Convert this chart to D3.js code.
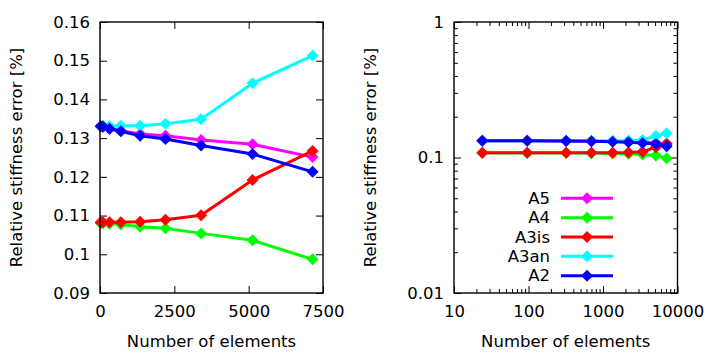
<!DOCTYPE html>
<html>
<head>
<meta charset="utf-8">
<script src="https://cdn.jsdelivr.net/npm/d3@7"></script>
<style>
  body { margin: 0; background: #fff; }
  svg text { font-family: "DejaVu Sans", sans-serif; font-size: 16.5px; fill: #000; }
  .axis path { display: none; }
  .axis line { stroke: #000; stroke-width: 1; }
</style>
</head>
<body>
<div id="chart"></div>
<script>
// data
var elements = [24, 96, 320, 700, 1350, 2200, 3400, 5130, 7150];
var seriesNames = ["A5", "A4", "A3is", "A3an", "A2"];
var seriesColors = ["#ff00ff", "#00ff00", "#ff0000", "#00ffff", "#0000ff"];
var a5 = [0.1331, 0.1329, 0.1324, 0.1319, 0.1311, 0.1306, 0.1295, 0.1284, 0.1251];
var a4 = [0.1080, 0.1080, 0.1079, 0.1077, 0.1071, 0.1067, 0.1054, 0.1036, 0.0987];
var a3is = [0.1083, 0.1083, 0.1083, 0.1083, 0.1084, 0.1089, 0.1101, 0.1192, 0.1267];
var a3an = [0.1331, 0.1332, 0.1331, 0.1332, 0.1332, 0.1337, 0.1349, 0.1442, 0.1513];
var a2 = [0.1331, 0.1330, 0.1324, 0.1318, 0.1306, 0.1298, 0.1281, 0.1259, 0.1213];
var linTicksX = [0, 2500, 5000, 7500];
var linTicksY = [0.09, 0.10, 0.11, 0.12, 0.13, 0.14, 0.15, 0.16];
var logTicksX = [10, 100, 1000, 10000];
var logTicksY = [0.01, 0.1, 1];

var allValues = [a5, a4, a3is, a3an, a2];
var series = seriesNames.map((name, i) => ({
    name: name,
    color: seriesColors[i],
    points: elements.map((e, j) => ({ x: e, y: allValues[i][j] }))
}));

var svgWidth = 709, svgHeight = 355;
var plotTop = 22, plotBottom = 293;
var majorLen = 7, minorLen = 4;

var svg = d3.select("#chart")
    .append("svg")
    .attr("width", svgWidth)
    .attr("height", svgHeight);

var diamond = "M0,-6L6,0L0,6L-6,0Z";

function drawPanel(xScale, yScale, xTicks, yTicks, xFmt, yFmt, isLog, x0, x1) {
    var g = svg.append("g");

    // bottom axis with labels, ticks pointing inward
    g.append("g").attr("class", "axis")
        .attr("transform", `translate(0,${plotBottom})`)
        .call(d3.axisBottom(xScale).tickValues(xTicks).tickFormat(xFmt)
            .tickSize(-majorLen).tickPadding(12));
    // top mirror
    g.append("g").attr("class", "axis")
        .attr("transform", `translate(0,${plotTop})`)
        .call(d3.axisTop(xScale).tickValues(xTicks).tickFormat("").tickSize(-majorLen));

    g.append("g").attr("class", "axis")
        .attr("transform", `translate(${x0},0)`)
        .call(d3.axisLeft(yScale).tickValues(yTicks).tickFormat(yFmt)
            .tickSize(-majorLen).tickPadding(10));
    g.append("g").attr("class", "axis")
        .attr("transform", `translate(${x1},0)`)
        .call(d3.axisRight(yScale).tickValues(yTicks).tickFormat("").tickSize(-majorLen));

    if (isLog) {
        var minorX = [], minorY = [];
        for (var d = 10; d < 10000; d *= 10)
            for (var k = 2; k <= 9; k++) minorX.push(d * k);
        for (var d = 0.01; d < 1; d *= 10)
            for (var k = 2; k <= 9; k++) minorY.push(d * k);
        g.append("g").attr("class", "axis").attr("transform", `translate(0,${plotBottom})`)
            .call(d3.axisBottom(xScale).tickValues(minorX).tickFormat("").tickSize(-minorLen));
        g.append("g").attr("class", "axis").attr("transform", `translate(0,${plotTop})`)
            .call(d3.axisTop(xScale).tickValues(minorX).tickFormat("").tickSize(-minorLen));
        g.append("g").attr("class", "axis").attr("transform", `translate(${x0},0)`)
            .call(d3.axisLeft(yScale).tickValues(minorY).tickFormat("").tickSize(-minorLen));
        g.append("g").attr("class", "axis").attr("transform", `translate(${x1},0)`)
            .call(d3.axisRight(yScale).tickValues(minorY).tickFormat("").tickSize(-minorLen));
    }

    // lines and markers
    var line = d3.line().x(d => xScale(d.x)).y(d => yScale(d.y));
    series.forEach(s => {
        g.append("path")
            .datum(s.points)
            .attr("fill", "none")
            .attr("stroke", s.color)
            .attr("stroke-width", 3)
            .attr("stroke-linejoin", "round")
            .attr("d", line);
        g.selectAll(null)
            .data(s.points)
            .enter()
            .append("path")
            .attr("d", diamond)
            .attr("fill", s.color)
            .attr("transform", d => `translate(${xScale(d.x)},${yScale(d.y)})`);
    });

    // frame
    g.append("rect")
        .attr("x", x0).attr("y", plotTop)
        .attr("width", x1 - x0).attr("height", plotBottom - plotTop)
        .attr("fill", "none").attr("stroke", "#000").attr("stroke-width", 1.4);

    // axis titles
    g.append("text")
        .attr("x", (x0 + x1) / 2).attr("y", 347)
        .attr("text-anchor", "middle")
        .text("Number of elements");
    g.append("text")
        .attr("transform", `translate(${x0 - 84},${(plotTop + plotBottom) / 2}) rotate(-90)`)
        .attr("text-anchor", "middle")
        .attr("dy", "0.35em")
        .text("Relative stiffness error [%]");
    return g;
}

// left panel, linear
var xLin = d3.scaleLinear().domain([0, 7500]).range([100, 323]);
var yLin = d3.scaleLinear().domain([0.09, 0.16]).range([plotBottom, plotTop]);
drawPanel(xLin, yLin, linTicksX, linTicksY, d3.format("d"), d => d3.format(".2~f")(d), false, 100, 323);

// right panel, log-log
var xLog = d3.scaleLog().domain([10, 10000]).range([454, 677.5]);
var yLog = d3.scaleLog().domain([0.01, 1]).range([plotBottom, plotTop]);
var rightPanel = drawPanel(xLog, yLog, logTicksX, logTicksY, d3.format("d"), d => d3.format("~g")(d), true, 454, 677.5);

// legend
var legend = rightPanel.append("g");
series.forEach((s, i) => {
    var y = 198.3 + i * 19.35;
    legend.append("text")
        .attr("x", 550).attr("y", y).attr("dy", "0.35em")
        .attr("text-anchor", "end")
        .text(s.name);
    legend.append("line")
        .attr("x1", 561).attr("x2", 613).attr("y1", y).attr("y2", y)
        .attr("stroke", s.color).attr("stroke-width", 3);
    legend.append("path")
        .attr("d", diamond)
        .attr("fill", s.color)
        .attr("transform", `translate(587,${y})`);
});
</script>
</body>
</html>
